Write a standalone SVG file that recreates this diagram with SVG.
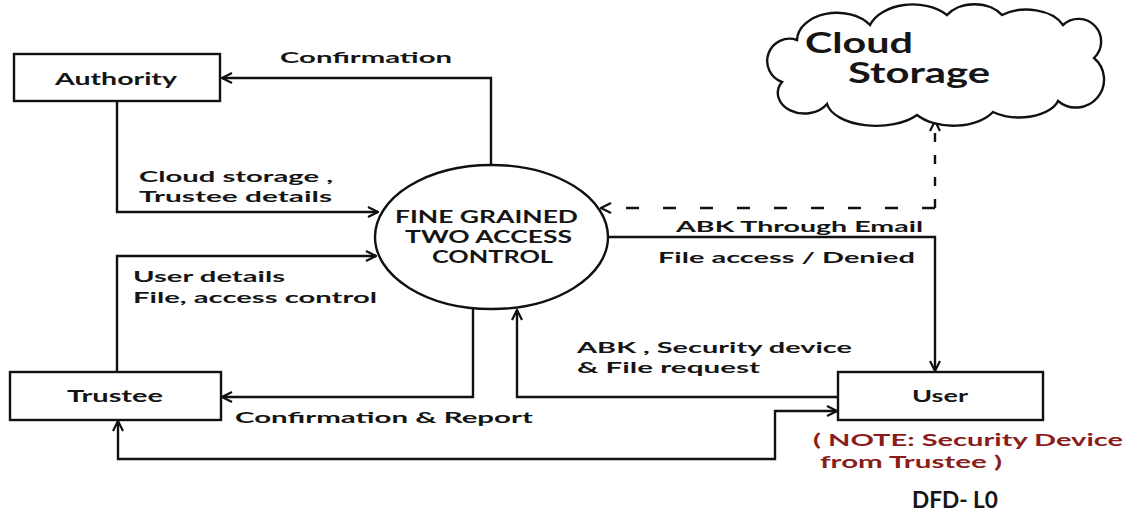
<svg xmlns="http://www.w3.org/2000/svg" width="1129" height="515" viewBox="0 0 1129 515">
  <style>
    .box { fill: #fff; stroke: #111; stroke-width: 2.4; }
    .lbl { font-family: Lato, "Open Sans", "Liberation Sans", sans-serif; font-weight: 700; font-size: 16px; fill: #151515; }
    .ent { font-size: 17px; }
    .proc { font-size: 16.5px; }
    .big { font-size: 28px; }
    .title { font-size: 23px; }
    .note { fill: #8b1c1c; font-size: 17px; }
    .flow { fill: none; stroke: #111; stroke-width: 2.4; }
    .dash-h { stroke-dasharray: 13 24; }
    .dash-v { stroke-dasharray: 9 13; }
  </style>
  <defs>
    <marker id="arrow" viewBox="0 0 12 12" refX="11" refY="6" markerWidth="12" markerHeight="12" markerUnits="userSpaceOnUse" orient="auto-start-reverse">
      <path d="M1,1 L11,6 L1,11" fill="none" stroke="#111" stroke-width="2.2"/>
    </marker>
  </defs>

  <rect width="1129" height="515" fill="#fff"/>

  <!-- connectors -->
  <g id="connectors">
    <!-- Process -> Authority : Confirmation -->
    <path class="flow" d="M491,166 V78 H222" marker-end="url(#arrow)"/>
    <!-- Authority -> Process -->
    <path class="flow" d="M117,101 V212 H378" marker-end="url(#arrow)"/>
    <!-- Trustee -> Process -->
    <path class="flow" d="M117,372 V256 H376" marker-end="url(#arrow)"/>
    <!-- Process -> Trustee : Confirmation & Report -->
    <path class="flow" d="M473,308 V397 H222" marker-end="url(#arrow)"/>
    <!-- User -> Process -->
    <path class="flow" d="M838,397 H517 V310" marker-end="url(#arrow)"/>
    <!-- Process -> User -->
    <path class="flow" d="M607,237 H935 V371" marker-end="url(#arrow)"/>
    <!-- Trustee <-> User -->
    <path class="flow" d="M118,421 V459 H775 V411 H837" marker-start="url(#arrow)" marker-end="url(#arrow)"/>
    <!-- Cloud storage <-> Process (dashed) -->
    <path class="flow dash-h" d="M935,208 H601" marker-end="url(#arrow)"/>
    <path class="flow dash-v" d="M935,208 V121" marker-end="url(#arrow)"/>
  </g>

  <!-- external entities -->
  <g id="authority">
    <rect class="box" x="14" y="54" width="206" height="47"/>
    <text class="lbl ent" x="55" y="85" textLength="122" lengthAdjust="spacingAndGlyphs">Authority</text>
  </g>
  <g id="trustee">
    <rect class="box" x="10" y="372" width="211" height="48"/>
    <text class="lbl ent" x="67" y="402" textLength="96" lengthAdjust="spacingAndGlyphs">Trustee</text>
  </g>
  <g id="user">
    <rect class="box" x="838" y="372" width="205" height="48"/>
    <text class="lbl ent" x="912" y="402" textLength="56" lengthAdjust="spacingAndGlyphs">User</text>
  </g>

  <!-- process -->
  <g id="process">
    <ellipse class="box" cx="491.5" cy="237" rx="116.5" ry="72"/>
    <text class="lbl proc" x="395" y="223" textLength="183" lengthAdjust="spacingAndGlyphs">FINE GRAINED</text>
    <text class="lbl proc" x="405" y="243" textLength="167" lengthAdjust="spacingAndGlyphs">TWO ACCESS</text>
    <text class="lbl proc" x="432" y="263" textLength="121" lengthAdjust="spacingAndGlyphs">CONTROL</text>
  </g>

  <!-- data store -->
  <g id="cloud-storage">
    <path class="box" d="M797,40
      A40,28 0 0 1 870,25
      A45,30 0 0 1 947,15
      A32,22 0 0 1 1002,15
      A40,26 0 0 1 1063,25
      A20,20 0 0 1 1094,58
      A24,24 0 0 1 1058,101
      A40,22 0 0 1 993,112
      A45,26 0 0 1 917,115
      A50,26 0 0 1 827,104
      A26,20 0 0 1 782,82
      A20,20 0 0 1 797,40 Z"/>
    <text class="lbl big" x="805" y="53" textLength="108" lengthAdjust="spacingAndGlyphs">Cloud</text>
    <text class="lbl big" x="848" y="83" textLength="142" lengthAdjust="spacingAndGlyphs">Storage</text>
  </g>

  <!-- flow labels -->
  <g id="labels">
    <text class="lbl" x="280" y="63" textLength="172" lengthAdjust="spacingAndGlyphs">Confirmation</text>
    <text class="lbl" x="139" y="182" textLength="194" lengthAdjust="spacingAndGlyphs">Cloud storage ,</text>
    <text class="lbl" x="139" y="202" textLength="193" lengthAdjust="spacingAndGlyphs">Trustee details</text>
    <text class="lbl" x="133" y="282" textLength="152" lengthAdjust="spacingAndGlyphs">User details</text>
    <text class="lbl" x="133" y="303" textLength="244" lengthAdjust="spacingAndGlyphs">File, access control</text>
    <text class="lbl" x="676" y="232" textLength="247" lengthAdjust="spacingAndGlyphs">ABK Through Email</text>
    <text class="lbl" x="658" y="263" textLength="257" lengthAdjust="spacingAndGlyphs">File access / Denied</text>
    <text class="lbl" x="577" y="353" textLength="275" lengthAdjust="spacingAndGlyphs">ABK , Security device</text>
    <text class="lbl" x="577" y="373" textLength="183" lengthAdjust="spacingAndGlyphs">&amp; File request</text>
    <text class="lbl" x="235" y="423" textLength="298" lengthAdjust="spacingAndGlyphs">Confirmation &amp; Report</text>
    <text class="lbl note" x="813" y="446" textLength="310" lengthAdjust="spacingAndGlyphs">( NOTE: Security Device</text>
    <text class="lbl note" x="820" y="468" textLength="182" lengthAdjust="spacingAndGlyphs">from Trustee )</text>
    <text class="lbl title" x="912" y="508" textLength="86" lengthAdjust="spacingAndGlyphs">DFD- L0</text>
  </g>
</svg>
